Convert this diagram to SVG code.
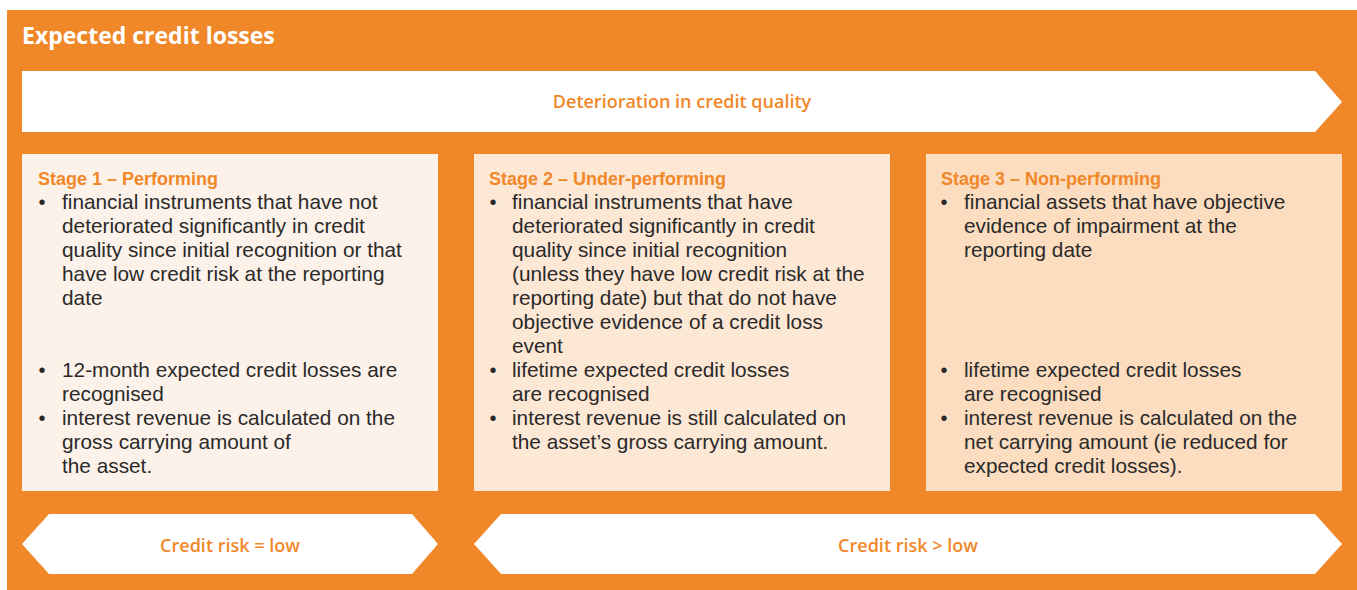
<svg xmlns="http://www.w3.org/2000/svg" width="1357" height="590" viewBox="0 0 1357 590">
<style>
.bg{fill:#F0882A}
.band{fill:#FFFFFF}
.lbl{font-family:"Open Sans","Liberation Sans",sans-serif;font-weight:600;font-size:18px;fill:#F0882A;text-anchor:middle}
.title{font-family:"Open Sans","Liberation Sans",sans-serif;font-weight:700;font-size:23px;fill:#FFFFFF}
.head{font-family:"Liberation Sans",Arial,sans-serif;font-weight:700;font-size:18px;fill:#F0882A}
.body{font-family:"Liberation Sans",Arial,sans-serif;font-weight:400;font-size:20.8px;fill:#2A2A2A}
.bul{font-family:"Liberation Sans",Arial,sans-serif;font-size:20px;fill:#2A2A2A;text-anchor:middle}
</style>
<rect class="bg" x="7" y="10" width="1350" height="580"/>
<g id="title"><text class="title" x="22" y="44">Expected credit losses</text></g>
<g id="deterioration">
<polygon class="band" points="22,71 1315,71 1342,102 1315,132 22,132"/>
<text class="lbl" x="682" y="108">Deterioration in credit quality</text>
</g>
<g id="stage1">
<rect x="22" y="154" width="416" height="337" fill="#FDF2E9"/>
<text class="head" x="38" y="185">Stage 1 – Performing</text>
<text class="bul" x="42" y="209">•</text>
<text class="bul" x="42" y="377">•</text>
<text class="bul" x="42" y="425">•</text>
<text class="body">
<tspan x="62" y="209">financial instruments that have not</tspan>
<tspan x="62" y="233">deteriorated significantly in credit</tspan>
<tspan x="62" y="257">quality since initial recognition or that</tspan>
<tspan x="62" y="281">have low credit risk at the reporting</tspan>
<tspan x="62" y="305">date</tspan>
<tspan x="62" y="377">12-month expected credit losses are</tspan>
<tspan x="62" y="401">recognised</tspan>
<tspan x="62" y="425">interest revenue is calculated on the</tspan>
<tspan x="62" y="449">gross carrying amount of</tspan>
<tspan x="62" y="473">the asset.</tspan>
</text>
</g>
<g id="stage2">
<rect x="474" y="154" width="416" height="337" fill="#FDE7D5"/>
<text class="head" x="489" y="185">Stage 2 – Under-performing</text>
<text class="bul" x="493" y="209">•</text>
<text class="bul" x="493" y="377">•</text>
<text class="bul" x="493" y="425">•</text>
<text class="body">
<tspan x="512" y="209">financial instruments that have</tspan>
<tspan x="512" y="233">deteriorated significantly in credit</tspan>
<tspan x="512" y="257">quality since initial recognition</tspan>
<tspan x="512" y="281">(unless they have low credit risk at the</tspan>
<tspan x="512" y="305">reporting date) but that do not have</tspan>
<tspan x="512" y="329">objective evidence of a credit loss</tspan>
<tspan x="512" y="353">event</tspan>
<tspan x="512" y="377">lifetime expected credit losses</tspan>
<tspan x="512" y="401">are recognised</tspan>
<tspan x="512" y="425">interest revenue is still calculated on</tspan>
<tspan x="512" y="449">the asset’s gross carrying amount.</tspan>
</text>
</g>
<g id="stage3">
<rect x="926" y="154" width="416" height="337" fill="#FCDDBF"/>
<text class="head" x="941" y="185">Stage 3 – Non-performing</text>
<text class="bul" x="944" y="209">•</text>
<text class="bul" x="944" y="377">•</text>
<text class="bul" x="944" y="425">•</text>
<text class="body">
<tspan x="964" y="209">financial assets that have objective</tspan>
<tspan x="964" y="233">evidence of impairment at the</tspan>
<tspan x="964" y="257">reporting date</tspan>
<tspan x="964" y="377">lifetime expected credit losses</tspan>
<tspan x="964" y="401">are recognised</tspan>
<tspan x="964" y="425">interest revenue is calculated on the</tspan>
<tspan x="964" y="449">net carrying amount (ie reduced for</tspan>
<tspan x="964" y="473">expected credit losses).</tspan>
</text>
</g>
<g id="risk-low">
<polygon class="band" points="22,544 49,514 412,514 438,544 412,574 49,574"/>
<text class="lbl" x="230" y="552">Credit risk = low</text>
</g>
<g id="risk-high">
<polygon class="band" points="474,544 501,514 1315,514 1342,544 1315,574 501,574"/>
<text class="lbl" x="908" y="552">Credit risk &gt; low</text>
</g>
<g id="connectors"/>
</svg>
